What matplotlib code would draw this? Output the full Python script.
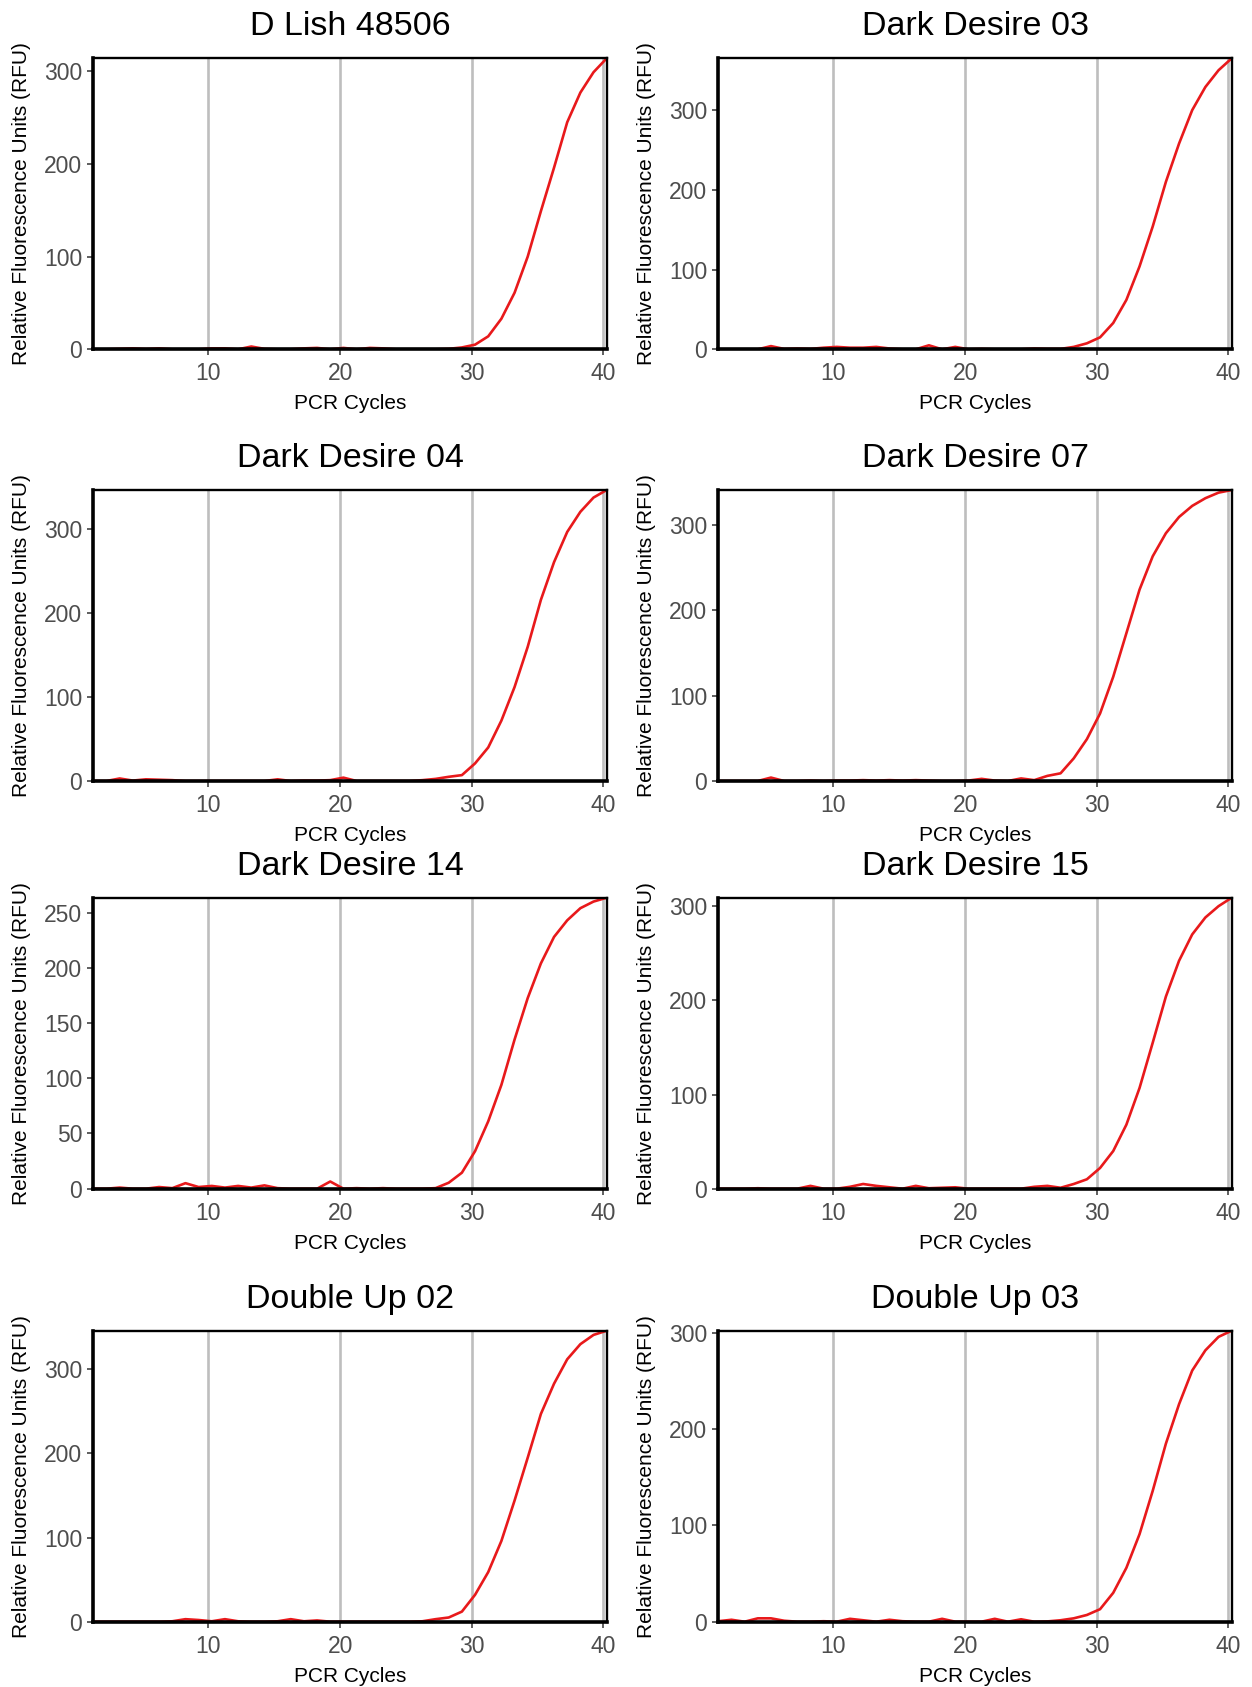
import numpy as np
import matplotlib
matplotlib.use("Agg")
import matplotlib.pyplot as plt
from matplotlib.ticker import MultipleLocator


plt.rcParams["font.family"] = ["Liberation Sans", "DejaVu Sans"]

# PCR cycles (the curves sit a quarter cycle to the right of the tick marks)
cycles = np.arange(1, 41)
cycleShift = 0.25

titles = ["D Lish 48506", "Dark Desire 03", "Dark Desire 04", "Dark Desire 07",
          "Dark Desire 14", "Dark Desire 15", "Double Up 02", "Double Up 03"]

dLish48506 = [0, 0, 0.5, 1, 0.3, 1, 0, 0, 0, 1,
              1, 0, 3, 0.5, 0, 0, 1, 1.5, 0, 1.5,
              0, 1.5, 1, 0, 0, 0, 0, 0.5, 2,
              5, 14, 33, 61, 100, 149, 196, 245, 277, 299, 314]
darkDesire03 = [0, 0, 0, 0, 4, 0.5, 1, 0.5, 2, 3,
                2, 2, 3, 1, 0, 0, 5, 0, 3, 0,
                0.5, 0, 0, 0, 1, 0.5, 0.5, 3, 7.5,
                15, 33, 62, 104, 154, 210, 258, 300, 329, 350, 365]
darkDesire04 = [0, 0, 3, 0.5, 2, 1.5, 1, 0, 0, 0,
                0, 0, 0, 0, 2, 0, 0.5, 0.5, 1, 4,
                0, 0, 0, 0, 0, 1, 2.5, 5, 7,
                21, 40, 72, 112, 160, 216, 261, 297, 321, 338, 347]
darkDesire07 = [0, 0, 0, 0, 4, 0, 0, 0.5, 0, 0.5,
                0.5, 1, 0.5, 1, 0.5, 1, 0.5, 0, 0, 0.5,
                2.5, 0.5, 0, 3, 1, 6, 9, 26.5, 49,
                79, 122, 173, 224, 263, 290, 309, 322, 331, 337.5, 340.6]
darkDesire14 = [0, 0, 1, 0, 0, 1.5, 0.5, 5, 1.5, 2.5,
                1, 2.5, 1, 3, 0.5, 0, 0, 0, 6.5, 0,
                0.5, 0, 0.5, 0, 0, 0, 0.5, 5.4, 14.5,
                34, 61, 94, 135, 172.6, 204, 228, 243, 254, 260, 263.5]
darkDesire15 = [0, 0, 0, 0.5, 0, 0, 0, 3, 0, 0,
                2, 5, 3, 1.5, 0, 3, 0.5, 1, 1.5, 0,
                0, 0, 0, 0, 2, 3, 1, 5, 10,
                22, 40, 68, 107, 155, 204, 242, 270, 288, 300, 309]
doubleUp02 = [0, 0, 0, 0, 0, 0, 0.5, 3, 2, 0.5,
              3, 0.5, 0, 0, 0.5, 3, 0.5, 1.5, 0, 0,
              0, 0, 0, 0, 0, 0.5, 3, 5, 12,
              32, 59, 96, 144, 195, 247, 283, 312, 330, 341, 346]
doubleUp03 = [0.5, 2, 0, 3.5, 3.5, 1, 0, 0, 0.5, 0,
              3, 1.5, 0, 2, 0.5, 0, 0, 3, 0, 0,
              0, 3, 0, 2.5, 0, 0.3, 1.5, 3.5, 7,
              13, 30, 56, 91, 136, 185, 226, 261, 282, 296, 302.4]

allSeries = [dLish48506, darkDesire03, darkDesire04, darkDesire07,
             darkDesire14, darkDesire15, doubleUp02, doubleUp03]
yTickSteps = [100, 100, 100, 100, 50, 100, 100, 100]
xTicks = [10, 20, 30, 40]


W, H = 1252, 1687
figure = plt.figure(figsize=(W / 100, H / 100), dpi=100)

colLefts = [93.3, 718.3]
rowTops = [58.3, 490, 897.7, 1330.7]
panelW, panelH = 513.4, 291

x = cycles + cycleShift

for i, (title, values) in enumerate(zip(titles, allSeries)):
    row, col = divmod(i, 2)
    left = colLefts[col]
    top = rowTops[row]
    axes = figure.add_axes([left / W, 1 - (top + panelH) / H, panelW / W, panelH / H])

    for xt in xTicks:
        axes.axvline(xt, color="#BEBEBE", linewidth=1.9, zorder=1)

    axes.plot(x, values, color="#E8191B", linewidth=1.9, zorder=3)

    axes.set_xlim(x[0], x[-1])
    axes.set_ylim(0, max(values))
    axes.set_xticks(xTicks)
    axes.yaxis.set_major_locator(MultipleLocator(yTickSteps[i]))

    for side in ["top", "right"]:
        axes.spines[side].set_linewidth(1.7)
    for side in ["left", "bottom"]:
        axes.spines[side].set_linewidth(2.6)
    for spine in axes.spines.values():
        spine.set_color("black")
        spine.set_zorder(4)

    axes.tick_params(axis="both", length=4.3, width=1.1, color="#333333",
                     labelsize=16.5, labelcolor="#4D4D4D")
    axes.tick_params(axis="x", pad=5)
    axes.tick_params(axis="y", pad=3.6)

    axes.set_title(title, fontsize=24.5, pad=16.5)
    axes.set_xlabel("PCR Cycles", fontsize=15)
    axes.set_ylabel("Relative Fluorescence Units (RFU)", fontsize=15)
    axes.xaxis.set_label_coords(0.5, -0.154)
    axes.yaxis.set_label_coords(-0.122, 0.5)

figure.savefig("out.png", dpi=100)
